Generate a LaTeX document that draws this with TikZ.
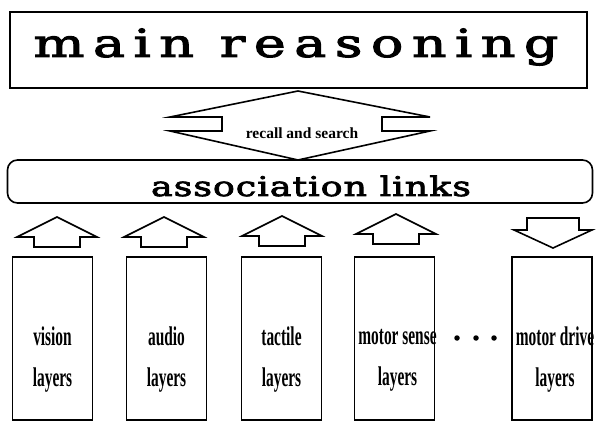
\documentclass[tikz,border=0pt]{standalone}
\usepackage{fontspec}
\setmainfont{Liberation Serif}
\newfontfamily\bigserif{DejaVu Serif}[FakeStretch=1.4,LetterSpace=22,FakeBold=3]
\newfontfamily\midserif{DejaVu Serif}[FakeStretch=1.35,LetterSpace=3.5,FakeBold=3]
\newfontfamily\narrowserif{Liberation Serif}[FakeStretch=0.57]
\begin{document}
\begin{tikzpicture}[x=1pt,y=-1pt, line join=miter,
  ln/.style={draw=black, line width=1.6pt},
  layerbox/.style={ln, minimum width=80pt, minimum height=163pt, inner sep=0pt},
  layertext/.style={font=\narrowserif\bfseries\fontsize{27pt}{41pt}\selectfont, align=center, inner sep=0pt},
  dotmark/.style={circle, fill=black, minimum size=5.5pt, inner sep=0pt},
  uparr/.pic={\draw[ln] (0,0) -- (40,20) -- (23,20) -- (23,30) -- (-23,30) -- (-23,20) -- (-40,20) -- cycle;},
  downarr/.pic={\draw[ln] (-26,0) -- (26,0) -- (26,12) -- (39,12) -- (0,30) -- (-39,12) -- (-26,12) -- cycle;}]
\useasboundingbox (0,0) rectangle (597,422);
% main reasoning
\node[ln, minimum width=577pt, minimum height=76pt, inner sep=0pt] (main) at (298.5,50) {};
\node[font=\bigserif\fontsize{38.5pt}{42pt}\selectfont, inner sep=0pt] (maintext) at (296,47) {main reasoning};
% recall and search double arrow
\draw[ln] (298,91) -- (430,117) -- (382,117) -- (382,131) -- (430,131) -- (298,160)
  -- (170,131) -- (222,131) -- (222,117) -- (170,117) -- cycle;
\node[font=\bfseries\fontsize{15.5pt}{18pt}\selectfont, inner sep=0pt] (recall) at (302,133) {recall and search};
% association links
\node[ln, rounded corners=10pt, minimum width=585pt, minimum height=43pt, inner sep=0pt] (assoc) at (300,181.5) {};
\node[font=\midserif\fontsize{27pt}{30pt}\selectfont, anchor=base, inner sep=0pt] (assoctext) at (311,196) {association links};
% block arrows
\pic at (57,217) {uparr};
\pic at (164,217) {uparr};
\pic at (282,216) {uparr};
\pic at (396,214) {uparr};
\pic at (553,218) {downarr};
% layer boxes
\node[layerbox] (vision) at (52.5,338.5) {};
\node[layerbox] (audio) at (166.5,338.5) {};
\node[layerbox] (tactile) at (281.5,338.5) {};
\node[layerbox] (msense) at (394.5,338.5) {};
\node[layerbox] (mdrive) at (552,338.5) {};
\node[layertext] (visiont) at (52.5,360) {vision\\layers};
\node[layertext] (audiot) at (166.5,360) {audio\\layers};
\node[layertext] (tactilet) at (281.5,360) {tactile\\layers};
\node[layertext] (msenset) at (397.5,360) {motor sense\\layers};
\node[layertext] (mdrivet) at (555,360) {motor drive\\layers};
% dots
\node[dotmark] (d1) at (457,338) {};
\node[dotmark] (d2) at (476,338) {};
\node[dotmark] (d3) at (494,338) {};
\end{tikzpicture}
\end{document}
